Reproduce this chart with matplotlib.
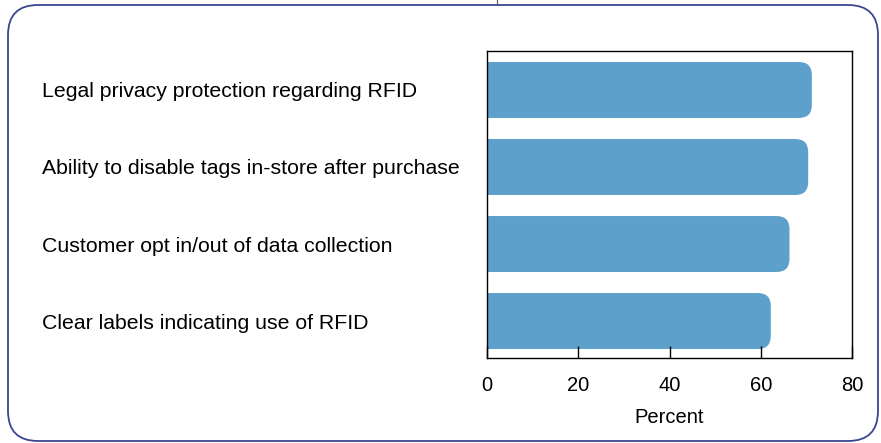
import matplotlib
matplotlib.use("Agg")
import matplotlib.pyplot as plt
from matplotlib.patches import FancyBboxPatch
from matplotlib.lines import Line2D

labels = [
    "Clear labels indicating use of RFID",
    "Customer opt in/out of data collection",
    "Ability to disable tags in-store after purchase",
    "Legal privacy protection regarding RFID",
]
values = [62.2, 66.3, 70.4, 71.2]
xticks = [0, 20, 40, 60, 80]

plt.rcParams['font.family'] = ['Liberation Sans', 'DejaVu Sans']

W, H = 881, 443
fig = plt.figure(figsize=(W / 100, H / 100), dpi=100)

# rounded frame around the whole chart
frame = FancyBboxPatch((8 / 100, 2 / 100), 870 / 100, 436 / 100,
                       boxstyle="round,pad=0,rounding_size=0.3",
                       transform=fig.dpi_scale_trans, fill=False,
                       edgecolor="#3b4592", linewidth=1.3)
fig.add_artist(frame)
fig.add_artist(Line2D([497 / W, 497 / W], [1 - 4.5 / H, 1.0],
                      transform=fig.transFigure, color="#555555", lw=0.8))

ax = fig.add_axes([487 / W, 1 - 358 / H, 365 / W, 307.3 / H])
ax.set_xlim(0, 80)
ax.set_ylim(-0.48, 3.51)

bar_h = 0.727
rx = 2.85
aspect = (13 / 77) / rx
for i, v in enumerate(values):
    p = FancyBboxPatch((-10, i - bar_h / 2), v + 10, bar_h,
                       boxstyle="round,pad=0,rounding_size=%f" % rx,
                       mutation_aspect=aspect,
                       facecolor="#5da0cb", edgecolor="none")
    ax.add_patch(p)

ax.set_xticks(xticks)
ax.set_xticklabels([str(t) for t in xticks], fontsize=14.5)
ax.tick_params(axis='x', direction='in', length=9, width=1, pad=13)
ax.set_yticks(range(len(labels)))
ax.set_yticklabels(labels, fontsize=15.35, ha='left', va='center_baseline')
ax.tick_params(axis='y', length=0, pad=445 * 0.72)
ax.set_xlabel("Percent", fontsize=14.5, labelpad=9)
for s in ax.spines.values():
    s.set_linewidth(1.0)

fig.savefig("out.png", dpi=100)
